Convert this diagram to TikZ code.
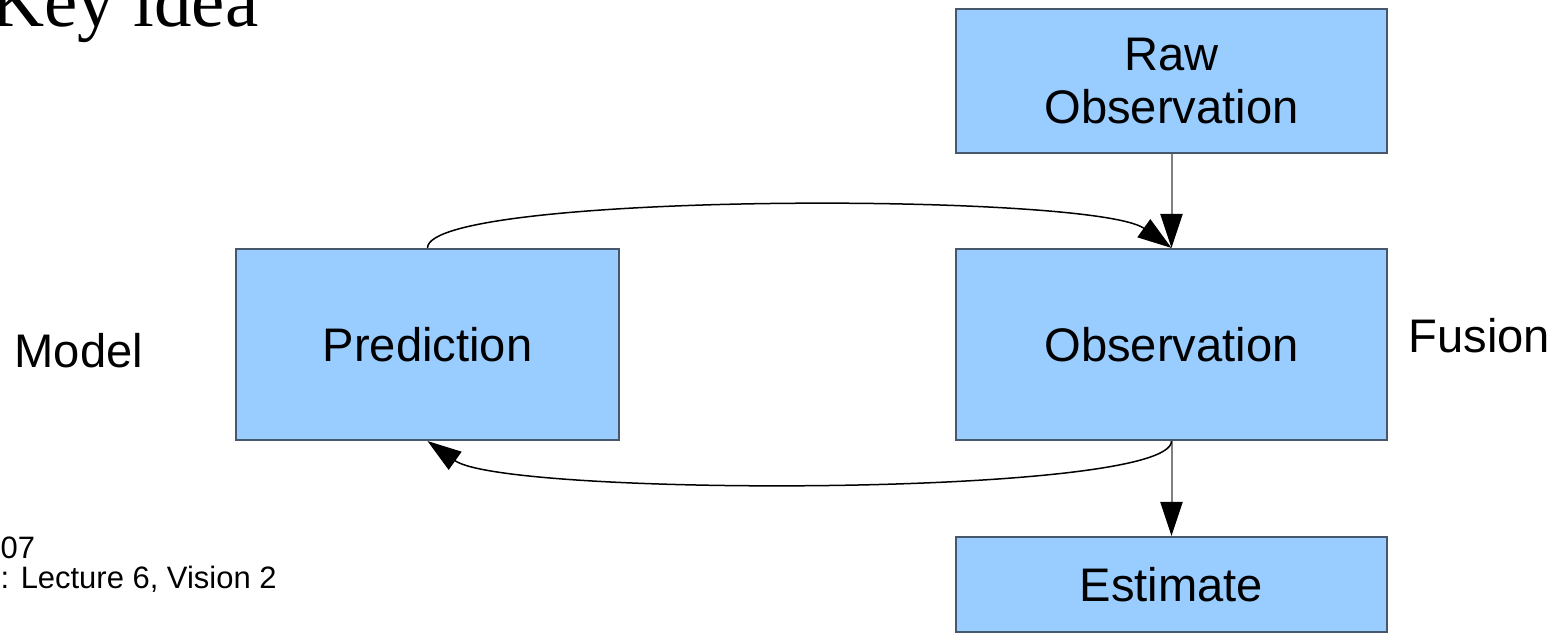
\documentclass[tikz,border=0pt]{standalone}
\usepackage{fontspec}
\setmainfont{Liberation Sans}
\newfontfamily\titlefont{Liberation Serif}
\usepackage{tikz}
\usetikzlibrary{arrows,arrows.meta}

\definecolor{boxfill}{HTML}{99CCFF}
\definecolor{boxline}{RGB}{72,88,108}
\definecolor{connline}{HTML}{808080}

\tikzset{
	stage/.style={draw=boxline,fill=boxfill,line width=0.02cm,inner sep=0pt,align=center,
		font=\fontsize{13.4pt}{15.1pt}\selectfont},
	label/.style={font=\fontsize{13.4pt}{15.1pt}\selectfont,inner sep=0pt},
	conn/.style={draw=connline,line width=0.02cm,-{Triangle[length=0.34cm,width=0.22cm,color=black,fill=black]}},
	feedback/.style={draw=black,line width=0.015cm,-{Triangle[length=0.34cm,width=0.22cm]}}
}

\begin{document}
\begin{tikzpicture}[x=0.01cm,y=-0.01cm]
	\useasboundingbox (0,0) rectangle (1559,633);
	
	%BOXES
	\node[stage,minimum width=4.31cm,minimum height=1.44cm] (raw) at (1171.5,81) {Raw\\Observation};
	\node[stage,minimum width=4.31cm,minimum height=1.91cm] (obs) at (1171.5,344.5) {Observation};
	\node[stage,minimum width=3.83cm,minimum height=1.91cm] (pred) at (427.5,344.5) {Prediction};
	\node[stage,minimum width=4.31cm,minimum height=0.95cm] (est) at (1171.5,584.5) {Estimate};
	
	%SIDE LABELS
	\node[label,anchor=base west] (model) at (14,367) {Model};
	\node[label,anchor=base west] (fusion) at (1408,352) {Fusion};
	
	%STRAIGHT CONNECTORS
	\draw[conn] (raw.south) -- (obs.north);
	\draw[conn] (obs.south) -- (est.north);
	
	%LOOP
	\draw[feedback] (pred.north) .. controls (428,192) and (1093,192) .. (obs.north);	%prediction to observation
	\draw[feedback] (obs.south) .. controls (1171,497) and (506,497) .. (pred.south);	%back to prediction
	
	%SLIDE TEXT (cut off at the edges)
	\node[anchor=base east,inner sep=0pt] (title) at (259,26) {\titlefont\fontsize{21.3pt}{24pt}\selectfont Key idea};
	\node[anchor=base west,inner sep=0pt] (year) at (0,558) {\fontsize{8.8pt}{10pt}\selectfont 07};
	\node[anchor=base west,inner sep=0pt] (course) at (0,588) {\fontsize{8.8pt}{10pt}\selectfont : Lecture 6, Vision 2};
\end{tikzpicture}
\end{document}
